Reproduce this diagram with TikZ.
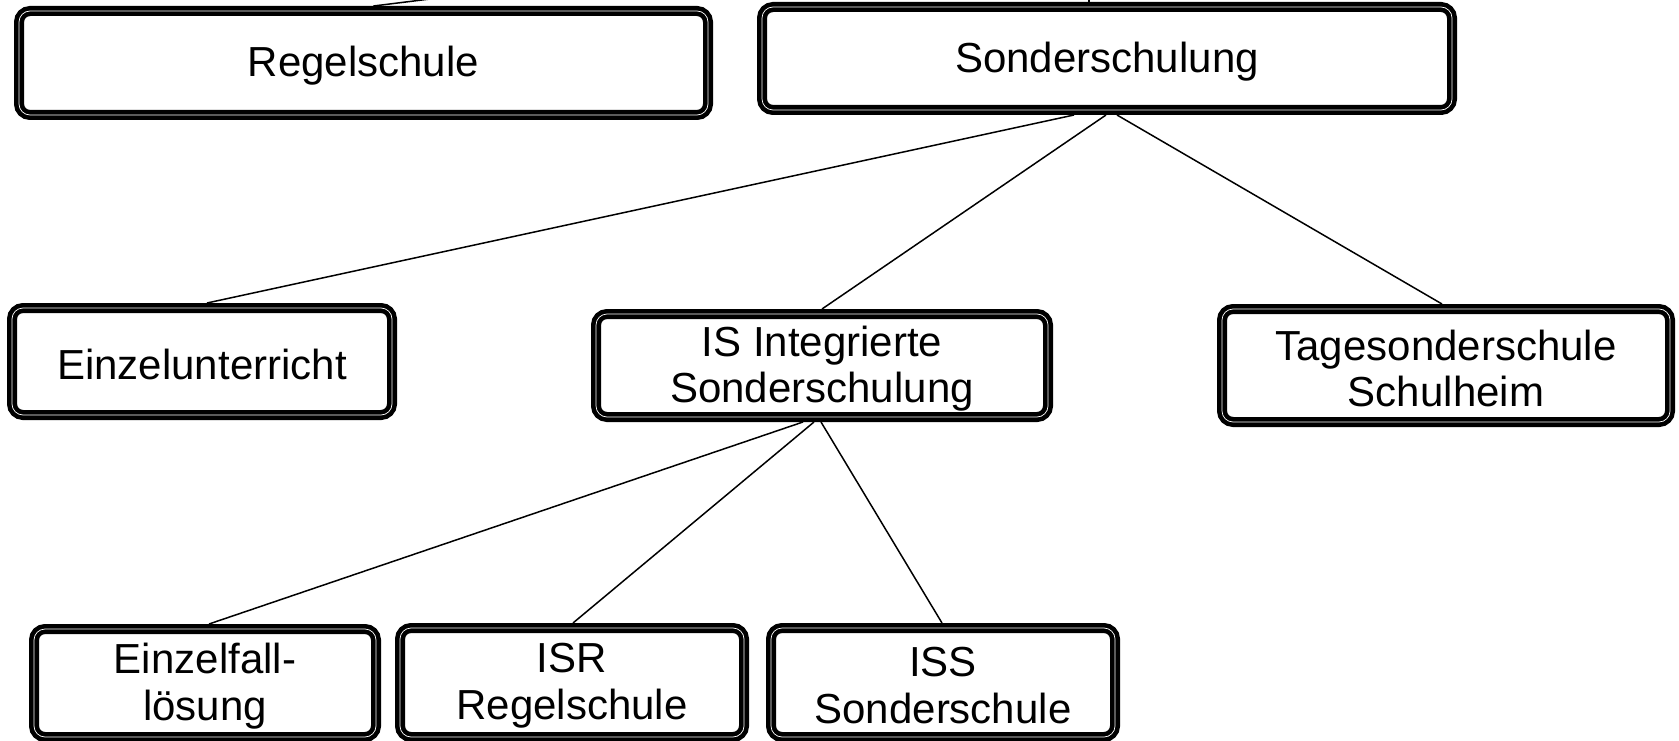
\documentclass[tikz,border=0pt]{standalone}
\usepackage{fontspec}
\setmainfont{Liberation Sans}
\begin{document}
\begin{tikzpicture}[x=1pt,y=-1pt,
  box/.style={draw=black, line width=10pt, rounded corners=11pt, fill=white,
    inner sep=0pt, postaction={draw=white, line width=0.7pt}},
  lbl/.style={font=\fontsize{42}{46.5}\selectfont, align=center, inner sep=0pt, yshift=-3pt},
  link/.style={draw=black, line width=1.5pt}]
\useasboundingbox (0,0) rectangle (1679,741);
% boxes (minimum size = outer size minus border width)
\node[box, minimum width=689pt, minimum height=104pt, label={[lbl]center:Regelschule}] (regel) at (363.5,63) {};
\node[box, minimum width=690pt, minimum height=103pt, label={[lbl]center:Sonderschulung}] (sond) at (1107,58.5) {};
\node[box, minimum width=380pt, minimum height=107pt, label={[lbl]center:Einzelunterricht}] (einzel) at (202,361.5) {};
\node[box, minimum width=452pt, minimum height=103pt, label={[lbl]center:{IS Integrierte\\Sonderschulung}}] (is) at (822,365.5) {};
\node[box, minimum width=448pt, minimum height=113pt, label={[lbl]center:{Tagesonderschule\\Schulheim}}] (tages) at (1446,365.5) {};
\node[box, minimum width=342pt, minimum height=108pt, label={[lbl]center:{Einzelfall-\\lösung}}] (fall) at (205,683) {};
\node[box, minimum width=344pt, minimum height=109pt, label={[lbl]center:{ISR\\Regelschule}}] (isr) at (572,682.5) {};
\node[box, minimum width=344pt, minimum height=109pt, label={[lbl]center:{ISS\\Sonderschule}}] (iss) at (943,682.5) {};
% free ends of connectors leaving the picture
\coordinate (regelup) at (430,-1);
\coordinate (sondup) at (1089,-2);
% connectors
\draw[link] ([xshift=10pt]regel.north) -- (regelup);
\draw[link] ([xshift=-18pt]sond.north) -- (sondup);
\draw[link] ([xshift=-33pt]sond.south) -- ([xshift=5pt]einzel.north);
\draw[link] ([xshift=-1pt]sond.south) -- (is.north);
\draw[link] ([xshift=10pt]sond.south) -- ([xshift=-4pt]tages.north);
\draw[link] ([xshift=-19pt]is.south) -- ([xshift=4pt]fall.north);
\draw[link] ([xshift=-8pt]is.south) -- ([xshift=1pt]isr.north);
\draw[link] ([xshift=-1pt]is.south) -- ([xshift=-1pt]iss.north);
\end{tikzpicture}
\end{document}
